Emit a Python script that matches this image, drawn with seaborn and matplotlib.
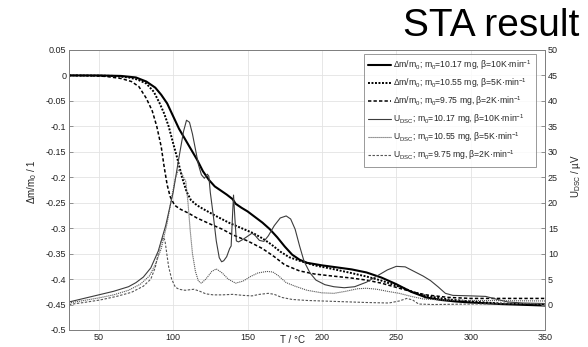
import numpy as np
import pandas as pd
import matplotlib
matplotlib.use("Agg")
import matplotlib.pyplot as plt
import seaborn as sns

# TG curves (left axis): temperature in degC, relative mass change
t_tg10 = [30, 50, 65, 75, 82, 88, 92, 96, 100, 104, 108, 112, 116, 120, 124, 128, 132, 136, 140, 142, 146,
          150, 155, 160, 165, 170, 175, 180, 185, 190, 200, 210, 220, 230, 240, 250, 260, 270, 280, 290,
          300, 320, 350]
tg10 = [0, 0, -0.001, -0.004, -0.012, -0.024, -0.038, -0.055, -0.08, -0.105, -0.125, -0.145, -0.165,
        -0.188, -0.205, -0.218, -0.226, -0.234, -0.243, -0.252, -0.26, -0.267, -0.278, -0.289, -0.302,
        -0.318, -0.336, -0.352, -0.362, -0.368, -0.373, -0.377, -0.381, -0.387, -0.397, -0.41, -0.425,
        -0.436, -0.441, -0.444, -0.446, -0.449, -0.452]

t_tg5 = [30, 50, 60, 70, 76, 82, 87, 91, 94, 97, 100, 103, 106, 109, 112, 116, 120, 125, 130, 138, 146,
         154, 160, 166, 172, 178, 185, 195, 207, 218, 230, 240, 252, 262, 270, 285, 300, 320, 350]
tg5 = [0, -0.0005, -0.001, -0.004, -0.008, -0.016, -0.032, -0.055, -0.075, -0.1, -0.133, -0.165, -0.2,
       -0.228, -0.245, -0.255, -0.262, -0.27, -0.278, -0.29, -0.3, -0.31, -0.32, -0.332, -0.346, -0.357,
       -0.364, -0.373, -0.38, -0.387, -0.395, -0.403, -0.415, -0.426, -0.433, -0.44, -0.444, -0.448, -0.45]

t_tg2 = [30, 45, 55, 65, 72, 77, 82, 86, 89, 92, 94, 96, 98, 101, 105, 110, 116, 125, 133, 140, 150, 160,
         168, 175, 185, 195, 207, 220, 230, 240, 252, 262, 270, 285, 300, 350]
tg2 = [0, -0.0005, -0.002, -0.006, -0.012, -0.022, -0.045, -0.07, -0.1, -0.14, -0.18, -0.215, -0.238,
       -0.255, -0.263, -0.27, -0.28, -0.292, -0.302, -0.313, -0.325, -0.34, -0.356, -0.372, -0.384, -0.39,
       -0.394, -0.398, -0.402, -0.408, -0.418, -0.426, -0.431, -0.436, -0.438, -0.438]

# DSC curves (right axis): signal in microvolt
t_dsc10 = [30, 40, 50, 60, 70, 75, 80, 85, 90, 95, 100, 104, 107, 109, 111, 113, 115, 117, 119, 121, 123,
           124, 125, 127, 129, 131, 132.6, 134, 136, 138, 139, 140, 140.6, 141.5, 142.5, 144, 147, 150, 153,
           155, 158, 161, 164, 168, 172, 176, 179, 182, 185, 188, 192, 196, 202, 208, 215, 222, 230, 237,
           244, 250, 256, 262, 268, 273, 278, 283, 288, 300, 310, 318, 325, 335, 350]
dsc10 = [0.5, 1.2, 1.9, 2.6, 3.5, 4.3, 5.4, 7.2, 10.5, 15.5, 22, 29, 34, 36.2, 35.8, 33.5, 30.5, 27.5, 25.5,
         24.8, 25.6, 25.2, 22, 17.5, 12.5, 9.2, 8.4, 8.6, 9.4, 11, 11.5, 18, 21.5, 17, 12.5, 12.3, 12.8,
         13.4, 14, 13.6, 12.6, 12.4, 13.5, 15.5, 17, 17.4, 16.8, 14.8, 11.5, 8.5, 6.2, 4.8, 3.9, 3.5, 3.3,
         3.5, 4.4, 5.6, 6.8, 7.5, 7.4, 6.5, 5.6, 4.7, 3.5, 2.2, 1.8, 1.7, 1.6, 1.0, 0.5, 0.3, 0.2]

t_dsc5 = [30, 40, 50, 60, 70, 78, 84, 88, 92, 96, 99, 101.5, 103.5, 105, 107, 108.5, 110, 111.5, 113, 115,
          117, 119, 122, 126, 129, 133, 137, 142, 147, 152, 157, 163, 167, 171, 176, 182, 190, 200, 208,
          216, 224, 230, 237, 244, 252, 260, 268, 280, 300, 350]
dsc5 = [0.3, 0.8, 1.3, 1.9, 2.8, 4, 5.6, 7.8, 11, 16, 21, 24.8, 26.4, 26.2, 25, 24.2, 20, 14.5, 10, 6.5,
        4.6, 4.2, 5, 6.5, 7, 6.2, 5, 4.2, 4.6, 5.5, 6.2, 6.5, 6.4, 5.6, 4.3, 3.6, 2.8, 2.3, 2.2, 2.6, 3.1,
        3.2, 3.0, 2.6, 2.2, 1.6, 1.1, 0.9, 0.8, 0.7]

t_dsc2 = [30, 40, 51, 62, 72, 80, 85, 88, 90, 92, 93.4, 94.5, 95.5, 97, 99, 101.5, 104, 108, 111, 114, 118,
          122, 127, 133, 140, 147, 153, 158, 164, 168, 173, 180, 190, 210, 230, 245, 252, 257, 261, 265,
          275, 300, 350]
dsc2 = [0, 0.4, 0.9, 1.6, 2.4, 3.6, 5, 7.3, 10, 12.5, 13.2, 12.6, 10.5, 7.4, 5, 3.4, 3, 2.8, 2.9, 3.0, 2.6,
        2.1, 1.9, 1.9, 2.0, 1.8, 1.7, 2.0, 2.2, 2.0, 1.4, 1.0, 0.8, 0.6, 0.4, 0.3, 0.7, 1.2, 0.9, 0.1, 0,
        0.1, 0.2]

labels = [
    r"Δm/m$_0$; m$_0$=10.17 mg, β=10K·min$^{-1}$",
    r"Δm/m$_0$; m$_0$=10.55 mg, β=5K·min$^{-1}$",
    r"Δm/m$_0$; m$_0$=9.75 mg, β=2K·min$^{-1}$",
    r"U$_{DSC}$; m$_0$=10.17 mg, β=10K·min$^{-1}$",
    r"U$_{DSC}$; m$_0$=10.55 mg, β=5K·min$^{-1}$",
    r"U$_{DSC}$; m$_0$=9.75 mg, β=2K·min$^{-1}$",
]

left_ticks = [0.05, 0, -0.05, -0.1, -0.15, -0.2, -0.25, -0.3, -0.35, -0.4, -0.45, -0.5]
left_ticklabels = ["0.05", "0", "-0.05", "-0.1", "-0.15", "-0.2", "-0.25", "-0.3", "-0.35", "-0.4",
                   "-0.45", "-0.5"]
right_ticks = [0, 5, 10, 15, 20, 25, 30, 35, 40, 45, 50]
x_ticks = [50, 100, 150, 200, 250, 300, 350]

sns.set_theme(style="white")
plt.rcParams["font.family"] = ["Liberation Sans", "DejaVu Sans"]
plt.rcParams["mathtext.fontset"] = "custom"
plt.rcParams["mathtext.rm"] = "Liberation Sans"
plt.rcParams["mathtext.it"] = "Liberation Sans"
plt.rcParams["mathtext.bf"] = "Liberation Sans"

fig = plt.figure(figsize=(5.88, 3.47), dpi=100)
ax = fig.add_axes([0.1173, 0.049, 0.8097, 0.807])
ax2 = ax.twinx()

dotted = (0, (1, 0.8))
dashed = (0, (2.2, 1.4))
tg_styles = [("-", 1.5), (dotted, 1.4), (dashed, 1.1)]
dsc_styles = [("-", 0.8), (dotted, 0.8), (dashed, 0.8)]
dsc_colors = ["#3c3c3c", "#555555", "#555555"]

tg_sets = [(t_tg10, tg10), (t_tg5, tg5), (t_tg2, tg2)]
dsc_sets = [(t_dsc10, dsc10), (t_dsc5, dsc5), (t_dsc2, dsc2)]

handles = []
for (t, v), (ls, lw), lab in zip(tg_sets, tg_styles, labels[:3]):
    df = pd.DataFrame({"T": t, "v": v})
    sns.lineplot(data=df, x="T", y="v", ax=ax, color="black", linestyle=ls, linewidth=lw, legend=False)
    line = ax.get_lines()[-1]
    line.set_label(lab)
    handles.append(line)

for (t, u), (ls, lw), col, lab in zip(dsc_sets, dsc_styles, dsc_colors, labels[3:]):
    df = pd.DataFrame({"T": t, "u": u})
    sns.lineplot(data=df, x="T", y="u", ax=ax2, color=col, linestyle=ls, linewidth=lw, legend=False)
    line = ax2.get_lines()[-1]
    line.set_label(lab)
    handles.append(line)

ax.set_xlim(30, 350)
ax.set_ylim(-0.5, 0.05)
ax2.set_ylim(-5, 50)

ax.set_xticks(x_ticks)
ax.set_yticks(left_ticks)
ax.set_yticklabels(left_ticklabels)
ax2.set_yticks(right_ticks)
ax2.set_xlim(30, 350)

ax.grid(True, color="#e3e3e3", linewidth=0.6)
ax.set_axisbelow(True)

for a in (ax, ax2):
    a.tick_params(direction="in", length=3, width=0.6, color="#808080", labelsize=6.5,
                  labelcolor="#222222", pad=2)
    for s in a.spines.values():
        s.set_color("#808080")
        s.set_linewidth(0.7)

ax.set_xlabel("T / °C", fontsize=7, color="#222222")
ax.xaxis.set_label_coords(0.47, -0.018)
ax.set_ylabel(r"Δm/m$_0$ / 1", fontsize=7, color="#222222")
ax.yaxis.set_label_coords(-0.064, 0.53)
ax2.set_ylabel(r"U$_{DSC}$ / µV", fontsize=7, color="#222222")
ax2.yaxis.set_label_coords(1.05, 0.55)

leg = ax2.legend(handles=handles, loc="upper right", bbox_to_anchor=(0.99, 1.0), fontsize=6.2,
                 frameon=True, fancybox=False, edgecolor="#808080", handlelength=2.6,
                 handletextpad=0.3, labelspacing=0.5, borderpad=0.5)
leg.get_frame().set_linewidth(0.7)

fig.text(0.985, 0.978, "STA result", ha="right", va="top", fontsize=28, color="black")

fig.savefig("out.png", dpi=100, facecolor="white")
